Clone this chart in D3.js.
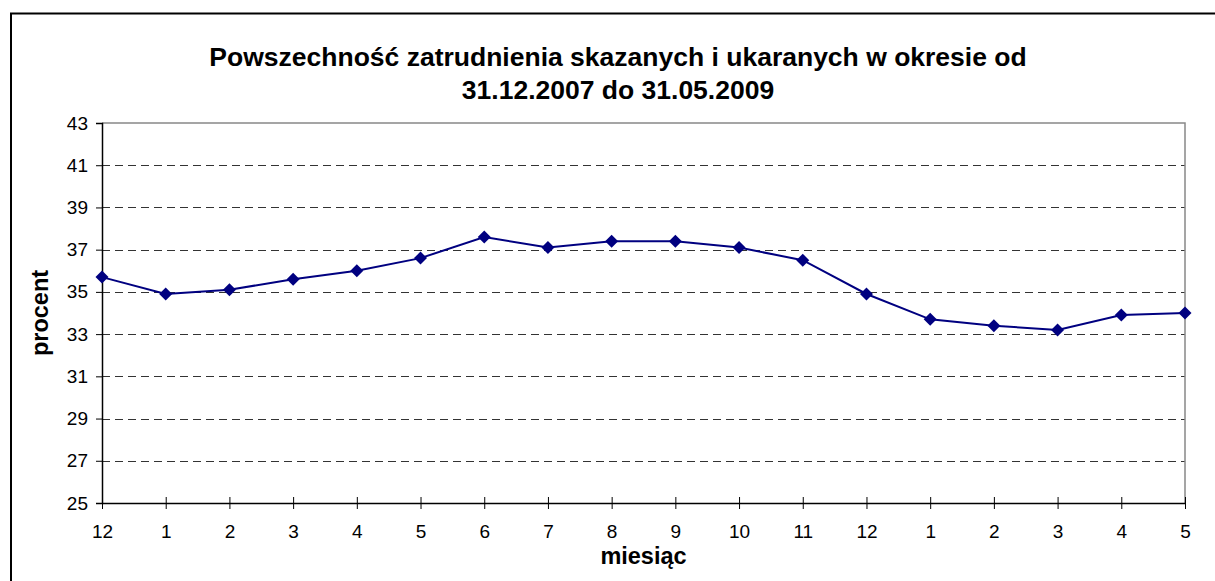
<!DOCTYPE html>
<html>
<head>
<meta charset="utf-8">
<script src="https://cdn.jsdelivr.net/npm/d3@7"></script>
<style>
  body { margin: 0; background: #fff; }
  text { font-family: Arial, "Liberation Sans", sans-serif; }
</style>
</head>
<body>
<div id="chart"></div>
<script>
// months from 31.12.2007 to 31.05.2009
var months = ["12", "1", "2", "3", "4", "5", "6", "7", "8", "9", "10", "11", "12", "1", "2", "3", "4", "5"];
var values = [35.7, 34.9, 35.1, 35.6, 36.0, 36.6, 37.6, 37.1, 37.4, 37.4, 37.1, 36.5, 34.9, 33.7, 33.4, 33.2, 33.9, 34.0];
var yTicks = [25, 27, 29, 31, 33, 35, 37, 39, 41, 43];
var titleLines = ["Powszechność zatrudnienia skazanych i ukaranych w okresie od", "31.12.2007 do 31.05.2009"];

var width = 1215, height = 581;
var plot = {left: 102, right: 1185, top: 123, bottom: 503};
var font = "Arial, 'Liberation Sans', sans-serif";

var svg = d3.select("#chart").append("svg")
    .attr("width", width)
    .attr("height", height);

// outer frame (runs off the right and bottom edge)
svg.append("rect")
    .attr("x", 11).attr("y", 13.5)
    .attr("width", 1220).attr("height", 600)
    .attr("fill", "none")
    .attr("stroke", "#000")
    .attr("stroke-width", 2);

var idx = months.map(function(d, i) { return i; });
var x = d3.scalePoint().domain(idx).range([plot.left, plot.right]);
var y = d3.scaleLinear().domain([25, 43]).range([plot.bottom, plot.top]);

// gridlines
svg.append("g").selectAll("line")
    .data(yTicks.filter(function(d) { return d > 25 && d < 43; }))
    .enter().append("line")
    .attr("x1", plot.left).attr("x2", plot.right)
    .attr("y1", function(d) { return Math.round(y(d)) + 0.5; })
    .attr("y2", function(d) { return Math.round(y(d)) + 0.5; })
    .attr("stroke", "#333")
    .attr("stroke-width", 1)
    .attr("stroke-dasharray", "8,5");

// plot area top/right border
svg.append("path")
    .attr("d", "M" + plot.left + "," + plot.top + "H" + plot.right + "V" + plot.bottom)
    .attr("fill", "none")
    .attr("stroke", "#888")
    .attr("stroke-width", 1.5);

// y axis
var yAxis = svg.append("g")
    .attr("transform", "translate(" + plot.left + ",0)")
    .call(d3.axisLeft(y).tickValues(yTicks).tickSize(6).tickPadding(8));
yAxis.select(".domain").attr("stroke", "#000").attr("stroke-width", 1.5);
yAxis.selectAll("text").attr("font-size", 19).attr("fill", "#000")
    .style("font-family", font);

// x axis
var xAxis = svg.append("g")
    .attr("transform", "translate(0," + plot.bottom + ")")
    .call(d3.axisBottom(x).tickFormat(function(i) { return months[i]; }).tickSize(6).tickPadding(14).tickSizeOuter(0));
xAxis.select(".domain").attr("stroke", "#000").attr("stroke-width", 1.5);
xAxis.selectAll(".tick line").attr("y1", -6);
xAxis.selectAll("text").attr("font-size", 19).attr("fill", "#000")
    .attr("dy", null).attr("y", 35)
    .style("font-family", font);

// series line
var line = d3.line()
    .x(function(d, i) { return x(i); })
    .y(function(d) { return y(d); });

svg.append("path")
    .datum(values)
    .attr("d", line)
    .attr("fill", "none")
    .attr("stroke", "#000080")
    .attr("stroke-width", 2);

// diamond markers
svg.append("g").selectAll("path")
    .data(values)
    .enter().append("path")
    .attr("transform", function(d, i) { return "translate(" + x(i) + "," + y(d) + ")"; })
    .attr("d", "M0,-6.5L6.5,0L0,6.5L-6.5,0Z")
    .attr("fill", "#000080");

// title
svg.append("g").selectAll("text")
    .data(titleLines)
    .enter().append("text")
    .attr("x", 618)
    .attr("y", function(d, i) { return 66 + i * 33; })
    .attr("text-anchor", "middle")
    .attr("font-size", 26.5)
    .attr("font-weight", "bold")
    .text(function(d) { return d; });

// axis titles
svg.append("text")
    .attr("x", (plot.left + plot.right) / 2).attr("y", 564)
    .attr("text-anchor", "middle")
    .attr("font-size", 23.5)
    .attr("font-weight", "bold")
    .text("miesiąc");

svg.append("text")
    .attr("transform", "translate(48," + (plot.top + plot.bottom) / 2 + ") rotate(-90)")
    .attr("text-anchor", "middle")
    .attr("font-size", 23.5)
    .attr("font-weight", "bold")
    .text("procent");
</script>
</body>
</html>
